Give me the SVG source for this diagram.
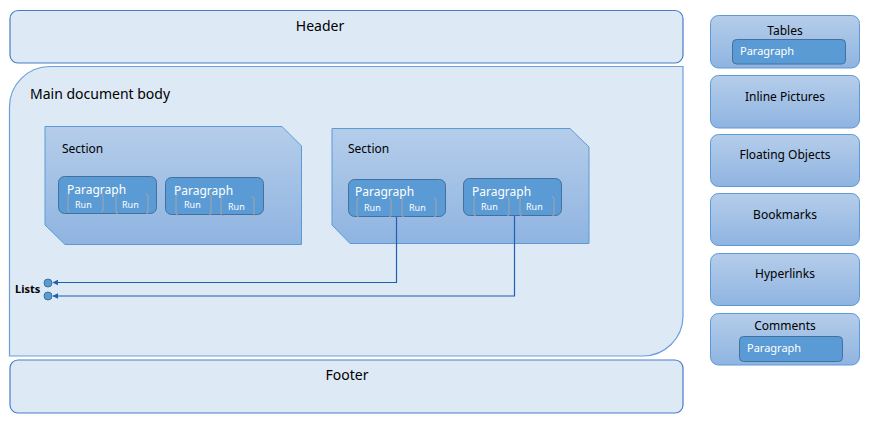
<svg xmlns="http://www.w3.org/2000/svg" width="875" height="424" viewBox="0 0 875 424">
<defs>
<linearGradient id="g" x1="0" y1="0" x2="0" y2="1">
<stop offset="0" stop-color="#b5cdea"/>
<stop offset="1" stop-color="#8fb4e1"/>
</linearGradient>
<marker id="arr" viewBox="0 0 10 10" refX="9" refY="5" markerWidth="6" markerHeight="6" orient="auto-start-reverse" markerUnits="userSpaceOnUse">
<path d="M0,0 L10,5 L0,10 z" fill="#1f5fb4"/>
</marker>
<style>
text{font-family:"Noto Sans","Open Sans","DejaVu Sans",sans-serif;}
.area{fill:#dde9f5;stroke:#4a7dc8;stroke-width:1.2;}
.body{fill:#dde9f5;stroke:#6a9fdc;stroke-width:1.2;}
.sec{fill:url(#g);stroke:#5b9bd5;stroke-width:1;}
.side{fill:url(#g);stroke:#5b9bd5;stroke-width:1;}
.para{fill:#5b9bd5;stroke:#41719c;stroke-width:1;}
.br{fill:none;stroke:#a5a5a5;stroke-width:1;}
.t14{font-size:14px;fill:#000;}
.t12{font-size:12px;fill:#000;}
.pt{font-size:12px;fill:#fff;}
.pts{font-size:11px;fill:#fff;}
.rt{font-size:9px;fill:#fff;}
.conn{fill:none;stroke:#1f5fb4;stroke-width:1.2;}
.dot{fill:#5b9bd5;stroke:#41719c;stroke-width:1;}
</style>
</defs>

<g id="header">
<rect class="area" x="10" y="10.5" width="673" height="52.5" rx="8"/>
<text class="t14" x="320" y="31" text-anchor="middle">Header</text>
</g>

<g id="main-body">
<path class="body" d="M50,66.5 L683,66.5 L683,316 A40,40 0 0 1 643,356 L9.5,356 L9.5,107 A40.5,40.5 0 0 1 50,66.5 Z"/>
<text class="t14" x="30" y="99">Main document body</text>
</g>

<g id="footer">
<rect class="area" x="10" y="360" width="673" height="53" rx="8"/>
<text class="t14" x="347" y="380" text-anchor="middle">Footer</text>
</g>

<g id="section1">
<path class="sec" d="M45,126.5 L282,126.5 L301.5,146 L301.5,244.5 L65,244.5 L45,225 Z"/>
<text class="t12" x="62" y="153">Section</text>
</g>

<g id="paragraph1">
<rect class="para" x="58.5" y="176.5" width="98" height="37" rx="6"/>
<text class="pt" x="67" y="194">Paragraph</text>
<path class="br" d="M70,194 Q68,194 68,196 L68,210 Q68,212 70,212"/>
<path class="br" d="M101,194 Q103,194 103,196 L103,210 Q103,212 101,212"/>
<text class="rt" x="75" y="207.5">Run</text>
<path class="br" d="M118,194 Q116,194 116,196 L116,212 Q116,214 118,214"/>
<path class="br" d="M146,194 Q148,194 148,196 L148,212 Q148,214 146,214"/>
<text class="rt" x="122" y="207.5">Run</text>
</g>

<g id="paragraph2">
<rect class="para" x="165.5" y="177.5" width="98" height="37" rx="6"/>
<text class="pt" x="174" y="195">Paragraph</text>
<path class="br" d="M178,195 Q176,195 176,197 L176,213 Q176,215 178,215"/>
<path class="br" d="M209,195 Q211,195 211,197 L211,213 Q211,215 209,215"/>
<text class="rt" x="184" y="208">Run</text>
<path class="br" d="M223,197 Q221,197 221,199 L221,214 Q221,216 223,216"/>
<path class="br" d="M252,197 Q254,197 254,199 L254,214 Q254,216 252,216"/>
<text class="rt" x="228" y="210">Run</text>
</g>

<g id="section2">
<path class="sec" d="M332,128.5 L570,128.5 L589,147 L589,243.5 L350,243.5 L332,225 Z"/>
<text class="t12" x="348" y="153">Section</text>
</g>

<g id="paragraph3">
<rect class="para" x="348.5" y="179.5" width="97" height="37" rx="6"/>
<text class="pt" x="355" y="196">Paragraph</text>
<path class="br" d="M359,198 Q357,198 357,200 L357,215 Q357,217 359,217"/>
<path class="br" d="M389,198 Q391,198 391,200 L391,215 Q391,217 389,217"/>
<text class="rt" x="364" y="211">Run</text>
<path class="br" d="M404,198 Q402,198 402,200 L402,215 Q402,217 404,217"/>
<path class="br" d="M434,198 Q436,198 436,200 L436,215 Q436,217 434,217"/>
<text class="rt" x="409" y="211">Run</text>
</g>

<g id="paragraph4">
<rect class="para" x="463.5" y="178.5" width="98" height="37" rx="6"/>
<text class="pt" x="472" y="196">Paragraph</text>
<path class="br" d="M476,197 Q474,197 474,199 L474,214 Q474,216 476,216"/>
<path class="br" d="M507,197 Q509,197 509,199 L509,214 Q509,216 507,216"/>
<text class="rt" x="481" y="209.5">Run</text>
<path class="br" d="M522,197 Q520,197 520,199 L520,214 Q520,216 522,216"/>
<path class="br" d="M552,197 Q554,197 554,199 L554,214 Q554,216 552,216"/>
<text class="rt" x="526" y="210">Run</text>
</g>

<g id="lists">
<text x="15" y="293" style="font-size:11px;font-weight:bold;fill:#000;">Lists</text>
<circle class="dot" cx="48" cy="283" r="4"/>
<circle class="dot" cx="48" cy="296" r="4"/>
</g>

<g id="connectors">
<path class="conn" d="M396.5,217 L396.5,282.5 L53,282.5" marker-end="url(#arr)"/>
<path class="conn" d="M514.5,216 L514.5,296 L53,296" marker-end="url(#arr)"/>
</g>

<g id="tables">
<rect class="side" x="710.5" y="15.5" width="149" height="52.5" rx="8"/>
<text class="t12" x="785" y="35" text-anchor="middle">Tables</text>
<rect class="para" x="732.5" y="39.5" width="113" height="24.5" rx="4"/>
<text class="pts" x="740" y="55">Paragraph</text>
</g>

<g id="inline-pictures">
<rect class="side" x="710.5" y="75.5" width="149" height="52.5" rx="8"/>
<text class="t12" x="785" y="101" text-anchor="middle">Inline Pictures</text>
</g>

<g id="floating-objects">
<rect class="side" x="710.5" y="134.5" width="149" height="52" rx="8"/>
<text class="t12" x="785" y="159" text-anchor="middle">Floating Objects</text>
</g>

<g id="bookmarks">
<rect class="side" x="710.5" y="193.5" width="149" height="52" rx="8"/>
<text class="t12" x="785" y="219" text-anchor="middle">Bookmarks</text>
</g>

<g id="hyperlinks">
<rect class="side" x="710.5" y="253.5" width="149" height="52" rx="8"/>
<text class="t12" x="785" y="278" text-anchor="middle">Hyperlinks</text>
</g>

<g id="comments">
<rect class="side" x="710.5" y="313.5" width="149" height="51.5" rx="8"/>
<text class="t12" x="785" y="330" text-anchor="middle">Comments</text>
<rect class="para" x="739.5" y="336.5" width="103" height="25" rx="4"/>
<text class="pts" x="747" y="352">Paragraph</text>
</g>
</svg>
